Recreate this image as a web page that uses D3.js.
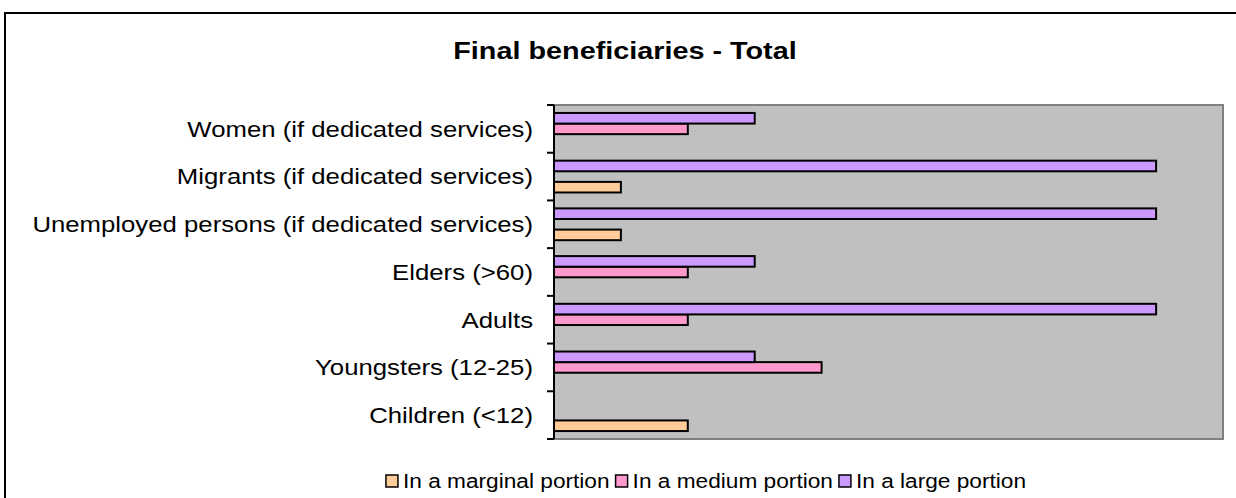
<!DOCTYPE html>
<html>
<head>
<meta charset="utf-8">
<script src="https://cdn.jsdelivr.net/npm/d3@7"></script>
<style>
  body { margin: 0; background: #fff; }
  svg { display: block; }
  text { font-family: "Liberation Sans", Arial, sans-serif; fill: #000; }
</style>
</head>
<body>
<svg id="chart" width="1236" height="498"></svg>
<script>
// categories top to bottom, as in the picture
const categories = [
  'Women (if dedicated services)',
  'Migrants (if dedicated services)',
  'Unemployed persons (if dedicated services)',
  'Elders (>60)',
  'Adults',
  'Youngsters (12-25)',
  'Children (<12)'
]
const seriesNames = ['In a marginal portion', 'In a medium portion', 'In a large portion']
const marginal = [0, 1, 1, 0, 0, 0, 2]
const medium = [2, 0, 0, 2, 2, 4, 0]
const large = [3, 9, 9, 3, 9, 3, 0]
const xMax = 10

const colors = ['#FFCC99', '#FF99CC', '#CC99FF']

const svg = d3.select('#chart')
const plot = { left: 554, right: 1223, top: 105, bottom: 439 }

// frame round the whole chart
svg.append('rect')
  .attr('x', 5).attr('y', 13)
  .attr('width', 1240).attr('height', 500)
  .attr('fill', 'none').attr('stroke', '#000').attr('stroke-width', 2)

// the source text is a little wider than plain Arial, so squeeze it out sideways
function stretchedText(x, y, str, size, sx, anchor, weight) {
  const g = svg.append('g').attr('transform', `translate(${x},${y}) scale(${sx},1)`)
  return g.append('text')
    .attr('text-anchor', anchor)
    .attr('dominant-baseline', 'central')
    .style('font-size', size + 'px')
    .style('font-weight', weight || 'normal')
    .text(str)
}

stretchedText(625, 51, 'Final beneficiaries - Total', 24, 1.2, 'middle', 'bold')

svg.append('rect')
  .attr('x', plot.left).attr('y', plot.top)
  .attr('width', plot.right - plot.left).attr('height', plot.bottom - plot.top)
  .attr('fill', '#C0C0C0').attr('stroke', '#808080').attr('stroke-width', 2)

const x = d3.scaleLinear().domain([0, xMax]).range([plot.left, plot.right])
const y0 = d3.scaleBand().domain(categories).range([plot.top, plot.bottom])
const y1 = d3.scaleBand()
  .domain([2, 1, 0])
  .range([0, y0.bandwidth()])
  .paddingOuter(0.75)

const rows = categories.map((c, i) => ({ cat: c, vals: [marginal[i], medium[i], large[i]] }))

const groups = svg.selectAll('g.cat')
  .data(rows)
  .enter()
  .append('g')
    .attr('class', 'cat')
    .attr('transform', d => `translate(0,${y0(d.cat)})`)

groups.selectAll('rect')
  .data(d => d.vals.map((v, k) => ({ v, k })).filter(d => d.v > 0))
  .enter()
  .append('rect')
    .attr('x', x(0))
    .attr('y', d => y1(d.k))
    .attr('width', d => x(d.v) - x(0))
    .attr('height', y1.bandwidth())
    .attr('fill', d => colors[d.k])
    .attr('stroke', '#000')
    .attr('stroke-width', 2)

// category axis with ticks between the bands
const ticks = categories.map(c => y0(c)).concat([plot.bottom])
svg.append('line')
  .attr('x1', plot.left).attr('x2', plot.left)
  .attr('y1', plot.top).attr('y2', plot.bottom)
  .attr('stroke', '#000').attr('stroke-width', 2)
svg.selectAll('line.tick')
  .data(ticks)
  .enter()
  .append('line')
    .attr('class', 'tick')
    .attr('x1', plot.left - 7).attr('x2', plot.left)
    .attr('y1', d => d).attr('y2', d => d)
    .attr('stroke', '#000').attr('stroke-width', 2)

categories.forEach(c => {
  stretchedText(533, y0(c) + y0.bandwidth() / 2, c, 22, 1.17, 'end')
})

// legend
const legendY = 481
const legSx = 1.08
const items = seriesNames.map((name, k) => {
  const t = stretchedText(0, legendY, name, 21, legSx, 'start')
  return { name, k, t, w: t.node().getComputedTextLength() * legSx }
})
const sq = 12, gapAfterSq = 5, gapItems = 6
const total = d3.sum(items, d => sq + gapAfterSq + d.w) + gapItems * (items.length - 1)
let cx = 706 - total / 2
items.forEach(it => {
  svg.append('rect')
    .attr('x', cx).attr('y', legendY - sq / 2)
    .attr('width', sq).attr('height', sq)
    .attr('fill', colors[it.k]).attr('stroke', '#000').attr('stroke-width', 1.5)
  d3.select(it.t.node().parentNode)
    .attr('transform', `translate(${cx + sq + gapAfterSq},${legendY}) scale(${legSx},1)`)
  cx += sq + gapAfterSq + it.w + gapItems
})
</script>
</body>
</html>
